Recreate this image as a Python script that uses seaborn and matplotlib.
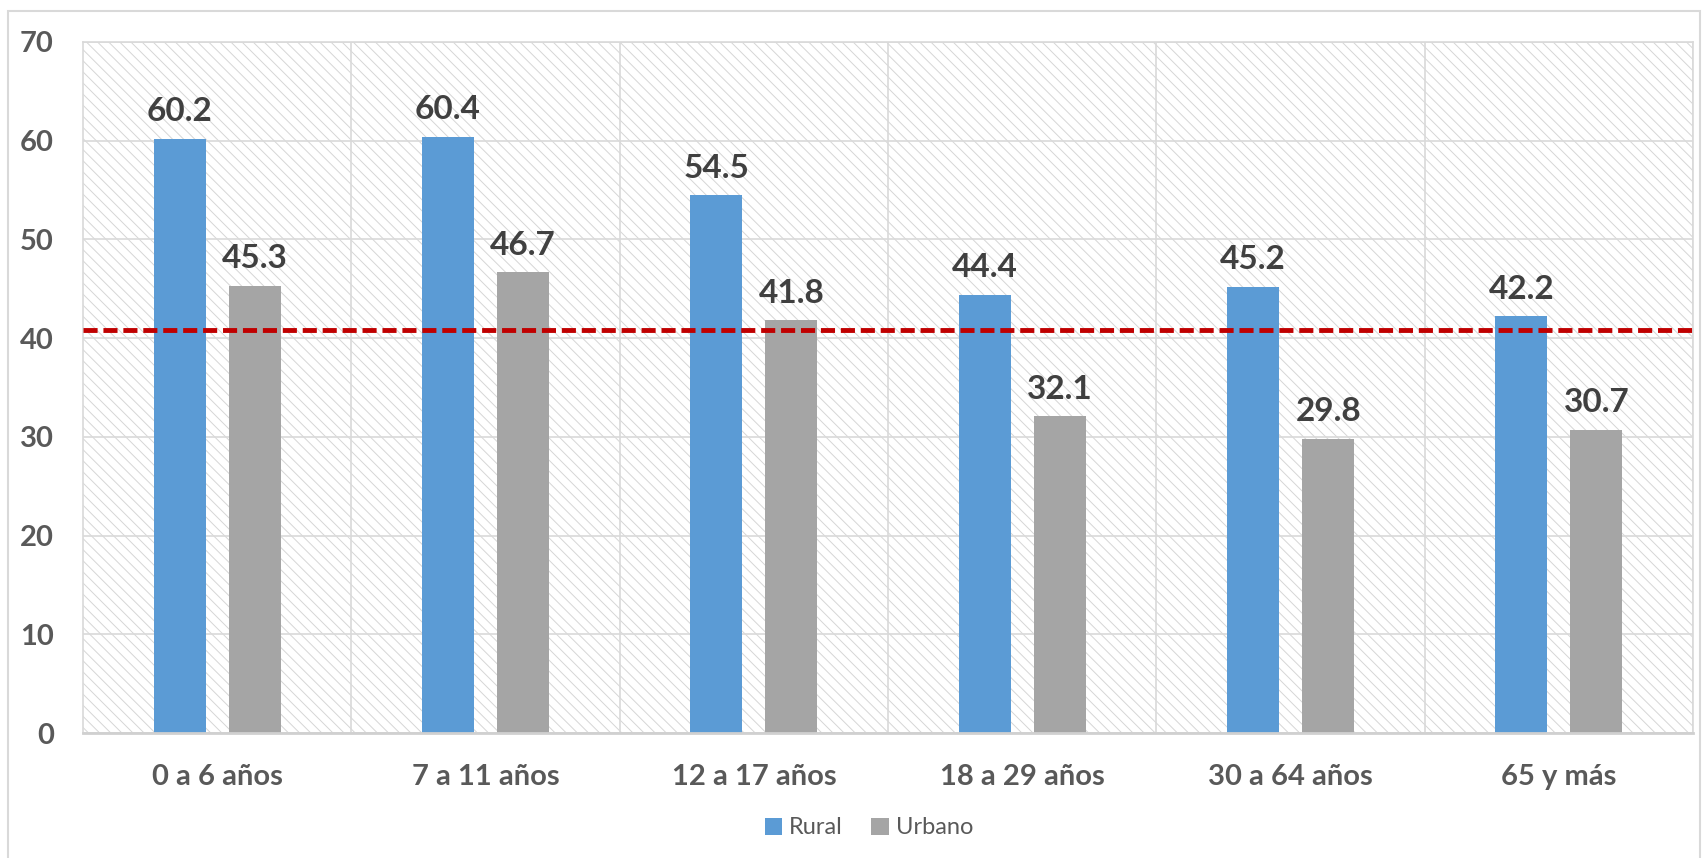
import matplotlib
matplotlib.use('Agg')
import matplotlib.pyplot as plt
import seaborn as sns
import pandas as pd
import numpy as np
from matplotlib.patches import Rectangle, Patch

categories = ['0 a 6 años', '7 a 11 años', '12 a 17 años', '18 a 29 años', '30 a 64 años', '65 y más']
rural = [60.2, 60.4, 54.5, 44.4, 45.2, 42.2]
urbano = [45.3, 46.7, 41.8, 32.1, 29.8, 30.7]
series = ['Rural', 'Urbano']
reference = 40.8
yticks = [0, 10, 20, 30, 40, 50, 60, 70]

colors = {'Rural': '#5B9BD5', 'Urbano': '#A5A5A5'}

sns.set_theme(style='white')
plt.rcParams['font.family'] = ['Lato', 'DejaVu Sans']
plt.rcParams['hatch.linewidth'] = 0.7
plt.rcParams['hatch.color'] = '#D6D6D6'

df = pd.DataFrame({
    'grupo': categories * 2,
    'zona': [series[0]] * len(rural) + [series[1]] * len(urbano),
    'valor': rural + urbano,
})

fig = plt.figure(figsize=(17.04, 8.58), dpi=100)
ax = fig.add_axes([83 / 1704, 1 - 733 / 858, (1693 - 83) / 1704, (733 - 42) / 858])

# hatched background
ax.add_patch(Rectangle((0, 0), 1, 1, transform=ax.transAxes, facecolor='white',
                       edgecolor='#D6D6D6', hatch='\\\\\\', lw=0, zorder=0))

sns.barplot(data=df, x='grupo', y='valor', hue='zona', hue_order=series,
            palette=colors, width=0.56, gap=0.31, ax=ax, legend=False,
            saturation=1, linewidth=0, errorbar=None, zorder=2)

for cont in ax.containers:
    ax.bar_label(cont, fmt='%.1f', padding=9, fontsize=24, fontweight='bold',
                 color='#404040')

ax.set_xlim(-0.5, len(categories) - 0.5)
ax.set_ylim(0, 70)
ax.set_yticks(yticks)
ax.set_xticks(np.arange(len(categories)) + 0.5, minor=True)
ax.grid(axis='y', which='major', color='#D9D9D9', lw=1.2, zorder=1)
ax.grid(axis='x', which='minor', color='#D9D9D9', lw=1.2, zorder=1)
ax.grid(axis='x', which='major', visible=False)
ax.set_axisbelow(True)

ax.axhline(reference, color='#C00000', lw=3.5, dashes=(2.9, 1.2), zorder=3)

ax.set_xlabel('')
ax.set_ylabel('')
ax.tick_params(axis='both', which='both', length=0, labelsize=21, labelcolor='#595959')
ax.tick_params(axis='y', pad=21)
ax.tick_params(axis='x', pad=22)
for lbl in ax.get_xticklabels() + ax.get_yticklabels():
    lbl.set_fontweight('bold')

for s in ['top', 'left', 'right']:
    ax.spines[s].set_color('#D9D9D9')
    ax.spines[s].set_linewidth(1.2)
ax.spines['bottom'].set_color('#D0D0D0')
ax.spines['bottom'].set_linewidth(2)

handles = [Patch(facecolor=colors[s], edgecolor='none') for s in series]
fig.legend(handles=handles, labels=series, loc='center', bbox_to_anchor=(0.51, 1 - 828 / 858),
           ncol=2, frameon=False, fontsize=17, handlelength=0.75, handleheight=0.75,
           handletextpad=0.3, columnspacing=1.2, labelcolor='#595959')

fig.add_artist(Rectangle((8 / 1704, -0.01), (1700 - 8) / 1704, 1 - 11 / 858 + 0.01,
                         transform=fig.transFigure, fill=False, edgecolor='#D9D9D9', lw=1.5))

fig.savefig('out.png', dpi=100)
